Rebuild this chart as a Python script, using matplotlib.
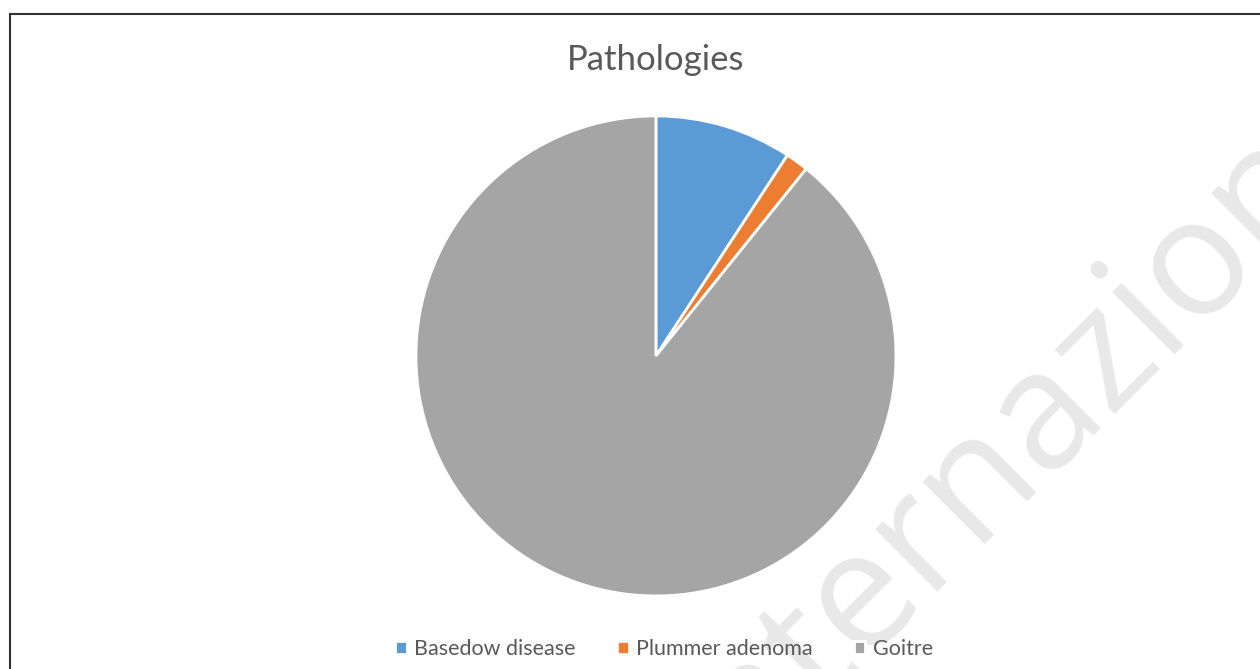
import matplotlib.pyplot as plt
from matplotlib.lines import Line2D

labels = ["Basedow disease", "Plummer adenoma", "Goitre"]
counts = [12, 2, 116]
colors = ["#5B9BD5", "#ED7D31", "#A5A5A5"]

plt.rcParams["font.family"] = ["Lato", "DejaVu Sans"]

fig = plt.figure(figsize=(12.6, 6.69), dpi=100)

ax = fig.add_axes([0.3301, 0.1092, 0.381, 0.7175])
wedges, _ = ax.pie(counts, colors=colors, startangle=90, counterclock=False,
                   wedgeprops=dict(edgecolor="white", linewidth=2))
ax.set_xlim(-1, 1)
ax.set_ylim(-1, 1)
ax.set_aspect("equal")

fig.text(0.5206, 1 - 60 / 669, "Pathologies", ha="center", va="center",
         fontsize=25, color="#595959")

fig.legend(wedges, labels, loc="center", bbox_to_anchor=(0.527, 1 - 649 / 669),
           ncol=3, frameon=False, fontsize=15.5, labelcolor="#595959",
           handlelength=0.55, handleheight=0.55, handletextpad=0.35, columnspacing=1.9)

# faint watermark behind the chart
fig.text(0.566, -0.195, "Internazionale", rotation=45, rotation_mode="anchor",
         fontsize=118, color="#e8e8e8", ha="left", va="baseline", zorder=-1,
         family="Open Sans")

# frame lines at the top and left edges
fig.add_artist(Line2D([10 / 1260, 1.0], [1 - 13.5 / 669] * 2, color="#333333", lw=1.5))
fig.add_artist(Line2D([10 / 1260] * 2, [0, 1 - 13.5 / 669], color="#333333", lw=1.5))

fig.savefig("out.png", dpi=100)
